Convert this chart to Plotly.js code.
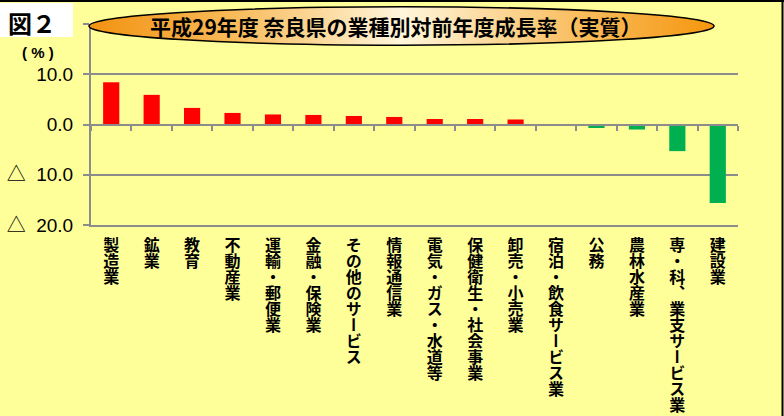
<!DOCTYPE html>
<html>
<head>
<meta charset="utf-8">
<script src="https://cdn.plot.ly/plotly-3.0.1.min.js"></script>
<style>html,body{margin:0;padding:0;background:#FFFF99;}#chart{width:784px;height:416px;}</style>
</head>
<body>
<div id="chart"></div>
<script>
// ---- data ----
const categories = ['製造業','鉱業','教育','不動産業','運輸・郵便業','金融・保険業','その他のサービス','情報通信業','電気・ガス・水道等','保健衛生・社会事業','卸売・小売業','宿泊・飲食サービス業','公務','農林水産業','専・科、業支サービス業','建設業'];
const growthRate = [8.4, 5.9, 3.3, 2.3, 2.0, 1.9, 1.7, 1.5, 1.1, 1.1, 1.0, 0.0, -0.7, -1.0, -5.3, -15.6];
const yTickVals = [20, 10, 0, -10, -20];
const yTickText = ['', '10.0', '0.0', '△\u00a0\u00a010.0', '△\u00a0\u00a020.0'];
const chartTitle = '平成29年度 奈良県の業種別対前年度成長率（実質）';
const figLabel = '図２';
const unitLabel = '( % )';

// ---- helpers ----
const W = 784, H = 416, ML = 91, MR = 46, MT = 24, MB = 191;
const PW = W - ML - MR, PH = H - MT - MB;
const px = x => (x - ML) / PW;
const py = y => (H - MB - y) / PH;

const posColor = '#FF0000', negColor = '#00B050';
const barColors = growthRate.map(v => v < 0 ? negColor : posColor);
const gray = '#8C8C8C';

const bars = {
  type: 'bar', x: categories, y: growthRate,
  marker: {color: barColors, line: {width: 0}},
  hoverinfo: 'x+y', showlegend: false,
  xaxis: 'x', yaxis: 'y'
};
const zeroAxisHolder = {
  type: 'scatter', mode: 'markers', x: categories, y: categories.map(() => 0),
  marker: {opacity: 0}, hoverinfo: 'skip', showlegend: false,
  xaxis: 'x2', yaxis: 'y'
};

const svg = "<svg xmlns='http://www.w3.org/2000/svg' width='627' height='40' viewBox='0 0 627 40' preserveAspectRatio='none'>" +
  "<defs><linearGradient id='g' x1='0' x2='1' y1='0' y2='0'>" +
  "<stop offset='0' stop-color='#F29210'/><stop offset='0.22' stop-color='#F8B855'/>" +
  "<stop offset='0.5' stop-color='#FFF6DC'/><stop offset='0.78' stop-color='#F9BE60'/>" +
  "<stop offset='1' stop-color='#F5960E'/></linearGradient></defs>" +
  "<ellipse cx='313.5' cy='20' rx='312.5' ry='19.2' fill='url(#g)' stroke='#000' stroke-width='1.6'/></svg>";
const svgUri = 'data:image/svg+xml;charset=utf-8,' + encodeURIComponent(svg);

const layout = {
  width: W, height: H,
  margin: {l: ML, r: MR, t: MT, b: MB, pad: 0},
  paper_bgcolor: '#FFFF99', plot_bgcolor: '#FFFF99',
  bargap: 0.6,
  font: {family: '"Noto Sans CJK JP", sans-serif', color: '#000'},
  xaxis: {
    type: 'category', categoryarray: categories, range: [-0.5, categories.length - 0.5],
    tickmode: 'array', tickvals: categories, ticktext: categories,
    tickangle: 0, ticks: '', showgrid: false, zeroline: false,
    showline: true, linecolor: gray, linewidth: 2,
    tickfont: {family: '"Noto Sans CJK JP"', size: 16, color: '#000', weight: 'bold'},
    fixedrange: true
  },
  xaxis2: {
    type: 'category', categoryarray: categories, range: [-0.5, categories.length - 0.5],
    overlaying: 'x', anchor: 'free', position: 0.5, side: 'bottom',
    showticklabels: false, ticks: 'outside', ticklen: 5, tickwidth: 2, tickcolor: gray,
    tickson: 'boundaries', showgrid: false, zeroline: false,
    showline: true, linecolor: gray, linewidth: 2, fixedrange: true
  },
  yaxis: {
    range: [-20, 20], tickmode: 'array', tickvals: yTickVals, ticktext: yTickText,
    ticks: 'outside', ticklen: 6, tickwidth: 2, tickcolor: gray,
    showgrid: true, gridcolor: gray, gridwidth: 2, zeroline: false,
    showline: true, linecolor: gray, linewidth: 2,
    tickfont: {family: '"Liberation Sans", "Noto Sans CJK JP"', size: 19, color: '#000'},
    ticklabelstandoff: 6, fixedrange: true
  },
  images: [{
    source: svgUri, xref: 'paper', yref: 'paper',
    x: px(88), y: py(6), sizex: 627 / PW, sizey: 40 / PH,
    xanchor: 'left', yanchor: 'top', sizing: 'stretch', layer: 'above'
  }],
  shapes: [
    {type: 'rect', xref: 'paper', yref: 'paper', x0: px(0), x1: px(73), y0: py(37), y1: py(3),
     fillcolor: '#FFFFFF', line: {width: 0}, layer: 'above'},
    {type: 'line', xref: 'paper', yref: 'paper', x0: px(0), x1: px(784), y0: py(1), y1: py(1),
     line: {color: '#000', width: 2}, layer: 'above'},
    {type: 'line', xref: 'paper', yref: 'paper', x0: px(782.5), x1: px(782.5), y0: py(0), y1: py(416),
     line: {color: '#000', width: 2}, layer: 'above'}
  ],
  annotations: [
    {text: chartTitle, xref: 'paper', yref: 'paper', x: px(396), y: py(26), showarrow: false,
     xanchor: 'center', yanchor: 'middle',
     font: {family: '"Noto Sans CJK JP"', size: 21, color: '#000', weight: 'bold'}},
    {text: figLabel, xref: 'paper', yref: 'paper', x: px(32), y: py(22), showarrow: false,
     xanchor: 'center', yanchor: 'middle',
     font: {family: '"Noto Sans CJK JP"', size: 24, color: '#000', weight: 'bold'}},
    {text: unitLabel, xref: 'paper', yref: 'paper', x: px(38), y: py(52), showarrow: false,
     xanchor: 'center', yanchor: 'middle',
     font: {family: '"Liberation Sans"', size: 15, color: '#000', weight: 'bold'}}
  ]
};

// Category labels are written vertically (top-to-bottom), as in the original.
function makeLabelsVertical(gd) {
  const texts = gd.querySelectorAll('g.xaxislayer-above g.xtick text');
  texts.forEach(t => {
    const before = t.getBoundingClientRect();
    const cx = before.left + before.width / 2;
    t.setAttribute('text-anchor', 'start');
    t.style.writingMode = 'vertical-rl';
    t.style.textOrientation = 'upright';
    const x0 = parseFloat(t.getAttribute('x') || '0');
    const y0 = parseFloat(t.getAttribute('y') || '0');
    const after = t.getBoundingClientRect();
    const dx = cx - (after.left + after.width / 2);
    const dy = 236.5 - after.top;
    t.setAttribute('x', x0 + dx);
    t.setAttribute('y', y0 + dy);
  });
}

Plotly.newPlot('chart', [bars, zeroAxisHolder], layout, {displayModeBar: false, staticPlot: true})
  .then(makeLabelsVertical);
</script>
</body>
</html>
